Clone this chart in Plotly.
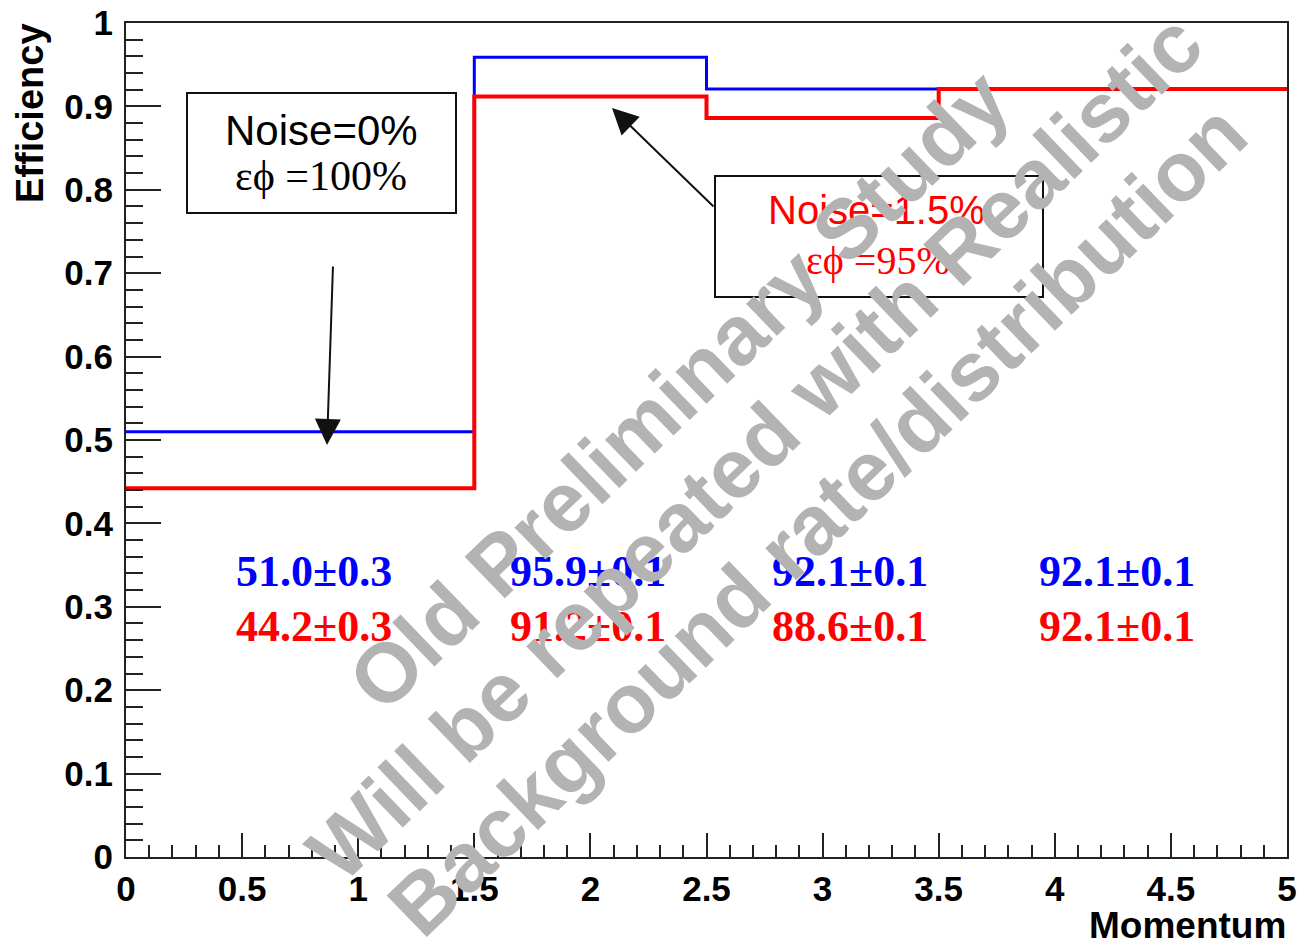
import plotly.graph_objects as go

# Momentum bin edges and efficiencies per bin
bin_edges = [0.0, 1.5, 2.5, 3.5, 5.0]
eff_noise0 = [0.510, 0.959, 0.921, 0.921]      # Noise=0%, eps_phi=100%
err_noise0 = [0.3, 0.1, 0.1, 0.1]              # percent
eff_noise15 = [0.442, 0.912, 0.886, 0.921]     # Noise=1.5%, eps_phi=95%
err_noise15 = [0.3, 0.1, 0.1, 0.1]             # percent

# Where the value labels sit along the momentum axis
label_x = [0.81, 1.99, 3.12, 4.27]
label_y_noise0 = 0.342
label_y_noise15 = 0.276

BLUE = "#0000ff"
RED = "#ff0000"
SANS = "Liberation Sans, Arial, sans-serif"
SERIF = "Liberation Serif, Times New Roman, serif"

W, H = 1300, 945
ML, MR, MT, MB = 126, 13, 23, 88
PW, PH = W - ML - MR, H - MT - MB


def px_to_paper(px, py):
    return (px - ML) / PW, (H - MB - py) / PH


def step_xy(edges, vals):
    return list(edges), list(vals) + [vals[-1]]


fig = go.Figure()

sx, sy = step_xy(bin_edges, eff_noise0)
fig.add_trace(go.Scatter(x=sx, y=sy, mode="lines", line=dict(color=BLUE, width=3, shape="hv"),
                         showlegend=False, hoverinfo="skip"))
sx, sy = step_xy(bin_edges, eff_noise15)
fig.add_trace(go.Scatter(x=sx, y=sy, mode="lines", line=dict(color=RED, width=4, shape="hv"),
                         showlegend=False, hoverinfo="skip"))

annotations = []

# value labels
for xpos, v, e in zip(label_x, eff_noise0, err_noise0):
    annotations.append(dict(x=xpos, y=label_y_noise0, xref="x", yref="y",
                            text=f"{v * 100:.1f}±{e:.1f}", showarrow=False,
                            font=dict(family=SERIF, size=44, color=BLUE, weight="bold")))
for xpos, v, e in zip(label_x, eff_noise15, err_noise15):
    annotations.append(dict(x=xpos, y=label_y_noise15, xref="x", yref="y",
                            text=f"{v * 100:.1f}±{e:.1f}", showarrow=False,
                            font=dict(family=SERIF, size=44, color=RED, weight="bold")))

# condition boxes
shapes = []
for (x0, y0, x1, y1) in [(187, 93, 456, 213), (715, 176, 1043, 297)]:
    p0 = px_to_paper(x0, y1)
    p1 = px_to_paper(x1, y0)
    shapes.append(dict(type="rect", xref="paper", yref="paper", x0=p0[0], y0=p0[1], x1=p1[0], y1=p1[1],
                       line=dict(color="#111111", width=2), fillcolor="white", layer="above"))

box_text = [
    (321, 130, "Noise=0%", SANS, 42, "black"),
    (321, 176, "εϕ =100%", SERIF, 42, "black"),
    (876, 210, "Noise=1.5%", SANS, 40, RED),
    (878, 260, "εϕ =95%", SERIF, 40, RED),
]
for px, py, t, fam, sz, col in box_text:
    xp, yp = px_to_paper(px, py)
    annotations.append(dict(x=xp, y=yp, xref="paper", yref="paper", text=t, showarrow=False,
                            xanchor="center", yanchor="middle", font=dict(family=fam, size=sz, color=col)))

# arrows pointing from the boxes to the curves
for tip, tail in [((327, 445), (333, 265)), ((612, 108), (715, 208))]:
    xp, yp = px_to_paper(*tip)
    annotations.append(dict(x=xp, y=yp, xref="paper", yref="paper", text="", showarrow=True,
                            ax=tail[0] - tip[0], ay=tail[1] - tip[1], axref="pixel", ayref="pixel",
                            arrowhead=2, arrowsize=2.6, arrowwidth=2, arrowcolor="#111111"))

# axis titles
xp, yp = px_to_paper(30, 113)
annotations.append(dict(x=xp, y=yp, xref="paper", yref="paper", text="Efficiency", showarrow=False,
                        textangle=-90, xanchor="center", yanchor="middle",
                        font=dict(family=SANS, size=38, color="black", weight="bold")))
xp, yp = px_to_paper(1288, 926)
annotations.append(dict(x=xp, y=yp, xref="paper", yref="paper", text="Momentum", showarrow=False,
                        xanchor="right", yanchor="middle",
                        font=dict(family=SANS, size=37, color="black", weight="bold")))

# watermark
watermark = [
    (679, 390, "Old Preliminary Study"),
    (755, 447, "Will be repeated with Realistic"),
    (817, 520, "Background rate/distribution"),
]
for px, py, t in watermark:
    xp, yp = px_to_paper(px, py)
    annotations.append(dict(x=xp, y=yp, xref="paper", yref="paper", text=t, showarrow=False,
                            textangle=-44, xanchor="center", yanchor="middle",
                            font=dict(family=SANS, size=84, color="#b3b3b3", weight="bold")))

axis_common = dict(showline=True, linecolor="#222222", linewidth=2, mirror=True, automargin=False,
                   showgrid=False, zeroline=False, ticks="inside", tickcolor="#222222", tickwidth=2,
                   tickfont=dict(family=SANS, size=35, color="black", weight="bold"))

fig.update_layout(
    width=W, height=H,
    margin=dict(l=ML, r=MR, t=MT, b=MB, autoexpand=False),
    paper_bgcolor="white", plot_bgcolor="white",
    xaxis=dict(range=[0, 5], dtick=0.5, tick0=0, ticklen=24, ticklabelstandoff=0,
               minor=dict(dtick=0.1, ticklen=12, ticks="inside", tickcolor="#222222", tickwidth=2),
               **axis_common),
    yaxis=dict(range=[0, 1], dtick=0.1, tick0=0, ticklen=35, ticklabelstandoff=4,
               minor=dict(dtick=0.02, ticklen=17, ticks="inside", tickcolor="#222222", tickwidth=2),
               **axis_common),
    shapes=shapes,
    annotations=annotations,
)

fig.write_html("out.html")
